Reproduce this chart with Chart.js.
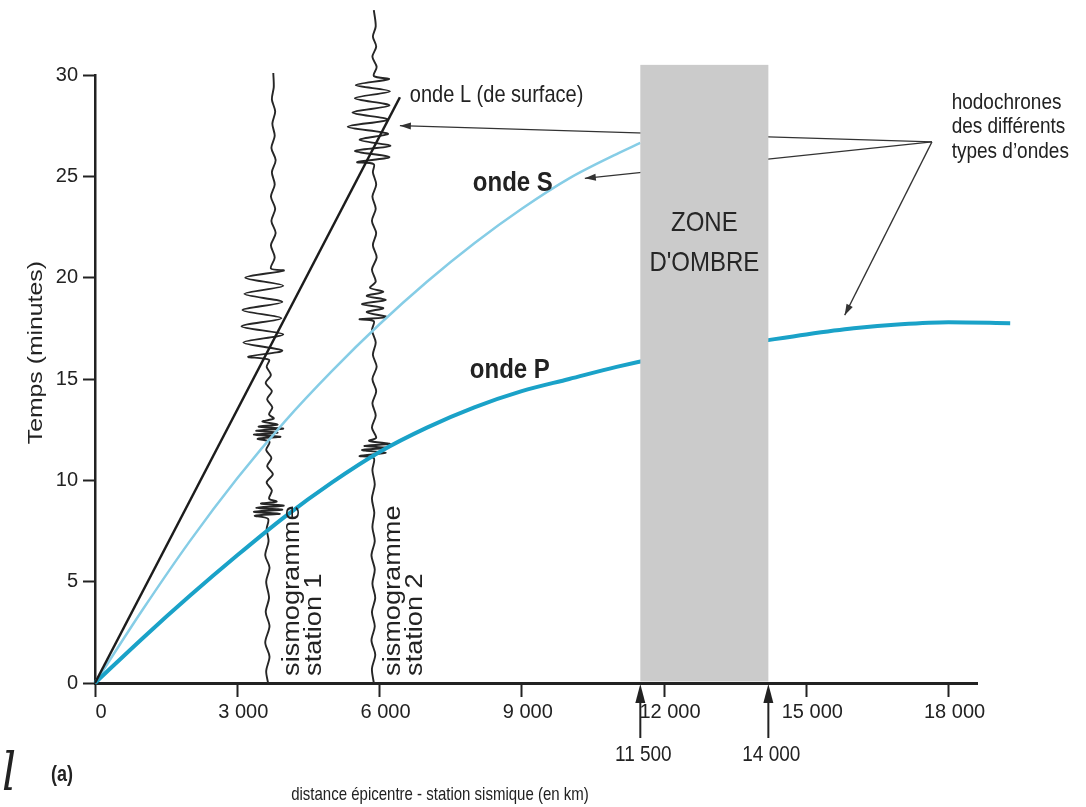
<!DOCTYPE html>
<html>
<head>
<meta charset="utf-8">
<script src="https://cdn.jsdelivr.net/npm/chart.js@4.4.1/dist/chart.umd.min.js"></script>
<style>
  html, body { margin: 0; padding: 0; background: #fff; }
  canvas { display: block; }
</style>
</head>
<body>
<canvas id="hodochrones" width="1086" height="807"></canvas>
<script>
// axis ticks
const xTickValues = [0, 3000, 6000, 9000, 12000, 15000, 18000];
const xTickLabels = ["0", "3 000", "6 000", "9 000", "12 000", "15 000", "18 000"];

// hodochrones (distance km -> temps min)
const pWaveKm  = [0, 1000, 2000, 3000, 4000, 5000, 6000, 7000, 8000, 9000, 10000, 11000, 12000, 13000, 14000, 15000, 16000, 17000, 18000, 19300];
const pWaveMin = [0, 2.2, 4.3, 6.3, 8.2, 9.9, 11.4, 12.6, 13.6, 14.4, 15.0, 15.6, 16.1, 16.5, 16.85, 17.2, 17.5, 17.7, 17.8, 17.75];
const sWaveKm  = [0, 1000, 2000, 3000, 4000, 5000, 6000, 7000, 8000, 9000, 10000, 11000, 11500];
const sWaveMin = [0, 3.6, 7.0, 10.1, 12.9, 15.4, 17.7, 19.8, 21.7, 23.4, 24.9, 26.1, 26.65];
const lWaveKm  = [0, 6430];
const lWaveMin = [0, 28.9];

// sismogrammes : temps (min) et écart horizontal du tracé (km)
const station1Km = 3650;
const station1Min = [0, 0.6, 1.3, 2.0, 2.8, 3.5, 4.2, 5.0, 5.7, 6.3, 7.0, 7.6, 8.1,
  8.25, 8.35, 8.45, 8.55, 8.65, 8.75, 8.85, 8.95, 9.1,
  9.5, 9.9, 10.3, 10.7, 11.1, 11.5, 11.9,
  12.05, 12.15, 12.25, 12.35, 12.45, 12.55, 12.65, 12.75, 12.9, 13.05, 13.25,
  13.6, 14.0, 14.4, 14.8, 15.2, 15.6, 15.95,
  16.1, 16.4, 16.8, 17.2, 17.6, 18.0, 18.4, 18.8, 19.2, 19.6, 20.0, 20.35, 20.45,
  21.0, 21.6, 22.2, 22.8, 23.4, 24.0, 24.6, 25.2, 25.8, 26.4, 27.0, 27.6, 28.2, 28.8, 29.4, 30.1];
const station1Offset = [0, -40, 30, -60, 30, -50, 20, -40, 30, -60, 10, -30, 0,
  -280, 250, -300, 300, -250, 330, -150, 180, 20,
  80, -30, 100, -20, 70, -40, 30,
  -220, 260, -300, 200, -250, 320, -200, 200, -120, 120, 20,
  90, -20, 80, -50, 60, -30, 20,
  -420, 300, -520, 320, -560, 280, -540, 300, -500, 320, -480, 330, 60,
  140, 60, 160, 70, 150, 60, 140, 80, 160, 70, 140, 90, 150, 80, 120, 110];

const station2Km = 5880;
const station2Min = [0, 0.7, 1.4, 2.1, 2.8, 3.5, 4.2, 4.9, 5.6, 6.3, 7.0, 7.7, 8.4, 9.1, 9.8, 10.5, 11.1,
  11.2, 11.35, 11.5, 11.6, 11.7, 11.8, 11.95, 12.1,
  12.6, 13.2, 13.8, 14.4, 15.0, 15.6, 16.2, 16.8, 17.4, 17.85,
  17.95, 18.05, 18.3, 18.5, 18.7, 18.9, 19.1, 19.3, 19.5, 19.8,
  20.4, 21.0, 21.6, 22.2, 22.8, 23.4, 24.0, 24.6, 25.2, 25.6,
  25.7, 25.95, 26.25, 26.5, 26.8, 27.1, 27.45, 27.8, 28.15, 28.5, 28.85, 29.2, 29.5, 29.8, 29.95,
  30.4, 30.9, 31.4, 31.9, 32.4, 33.2];
const station2Offset = [0, -40, 30, -50, 20, -40, 30, -30, 20, -50, 20, -30, 10, -40, 20, -30, 0,
  -300, 250, -250, 300, -200, 340, -100, 50,
  -40, 40, -30, 50, -30, 60, -20, 40, -40, 0,
  -300, 280, -150, 200, -250, 250, -150, 200, -80, 40,
  -40, 60, -20, 50, -40, 40, -30, 50, -20, 0,
  -350, 330, -400, 350, -300, 300, -550, 300, -450, 330, -400, 340, -380, 320, 0,
  60, -30, 50, -20, 40, 0];

// zone d'ombre
const zoneStartKm = 11500;
const zoneEndKm = 14200;
const zoneTopMin = 30.5;
const zoneArrowLabels = ["11 500", "14 000"];

// flèches "hodochrones des différents types d'ondes"
const pointerFromKm = 17650;
const pointerFromMin = 26.7;
const pointerToKm = [6430, 10330, 15810];
const pointerToMin = [27.5, 24.9, 18.15];

const FONT = "'Liberation Sans', Arial, sans-serif";
const STRETCH = 1.18;
const INK = "#222";

const pts = (xs, ys) => xs.map((v, i) => ({ x: v, y: ys[i] }));
const trace = (base, mins, offs) => mins.map((t, i) => ({ x: base + offs[i], y: t }));

function drawLabel(ctx, text, x, y, font, opts = {}) {
  ctx.save();
  ctx.translate(x, y);
  ctx.scale(1, STRETCH);
  if (opts.rotate) ctx.rotate(-Math.PI / 2);
  ctx.font = font;
  ctx.fillStyle = opts.color || INK;
  ctx.textAlign = opts.align || "left";
  ctx.textBaseline = opts.baseline || "middle";
  ctx.fillText(text, 0, 0);
  ctx.restore();
}

function arrowHead(ctx, x0, y0, x1, y1, len, half) {
  const a = Math.atan2(y1 - y0, x1 - x0);
  const bx = x1 - len * Math.cos(a), by = y1 - len * Math.sin(a);
  ctx.beginPath();
  ctx.moveTo(x1, y1);
  ctx.lineTo(bx + half * Math.sin(a), by - half * Math.cos(a));
  ctx.lineTo(bx - half * Math.sin(a), by + half * Math.cos(a));
  ctx.closePath();
  ctx.fill();
}

const overlay = {
  id: "overlay",
  afterDatasetsDraw(chart) {
    const { ctx, chartArea: area, scales } = chart;
    const px = v => scales.x.getPixelForValue(v);
    const py = v => scales.y.getPixelForValue(v);
    ctx.save();

    // pointer lines (under the grey zone)
    ctx.strokeStyle = "#333";
    ctx.fillStyle = "#333";
    ctx.lineWidth = 1.3;
    const fx = px(pointerFromKm), fy = py(pointerFromMin);
    pointerToKm.forEach((km, i) => {
      const tx = px(km), ty = py(pointerToMin[i]);
      ctx.beginPath();
      ctx.moveTo(fx, fy);
      ctx.lineTo(tx, ty);
      ctx.stroke();
      arrowHead(ctx, fx, fy, tx, ty, 11, 3.5);
    });

    // zone d'ombre
    const zl = px(zoneStartKm), zr = px(zoneEndKm), zt = py(zoneTopMin);
    ctx.fillStyle = "#cbcbcb";
    ctx.fillRect(zl, zt, zr - zl, area.bottom - 1.5 - zt);
    const zc = (zl + zr) / 2;
    drawLabel(ctx, "ZONE", zc, py(22.7), "24px " + FONT, { align: "center", color: "#262626" });
    drawLabel(ctx, "D'OMBRE", zc, py(20.7), "24px " + FONT, { align: "center", color: "#262626" });

    // arrows under the axis
    ctx.fillStyle = INK;
    ctx.strokeStyle = INK;
    ctx.lineWidth = 2;
    [zoneStartKm, zoneEndKm].forEach((km, i) => {
      const ax = px(km);
      ctx.beginPath();
      ctx.moveTo(ax, area.bottom + 55);
      ctx.lineTo(ax, area.bottom + 14);
      ctx.stroke();
      arrowHead(ctx, ax, area.bottom + 55, ax, area.bottom + 1, 19, 5);
      drawLabel(ctx, zoneArrowLabels[i], ax + 3, area.bottom + 72, "19px " + FONT, { align: "center" });
    });

    // wave names
    drawLabel(ctx, "onde L (de surface)", px(6640), py(29.0), "20px " + FONT);
    drawLabel(ctx, "onde S", px(7968), py(24.67), "bold 24px " + FONT);
    drawLabel(ctx, "onde P", px(7905), py(15.44), "bold 24px " + FONT);

    // hodochrones note
    const nx = px(18065);
    drawLabel(ctx, "hodochrones", nx, py(28.61), "19px " + FONT);
    drawLabel(ctx, "des différents", nx, py(27.43), "19px " + FONT);
    drawLabel(ctx, "types d\u2019ondes", nx, py(26.2), "19px " + FONT);

    // seismogram captions (rotated)
    const rot = { rotate: true, baseline: "alphabetic" };
    drawLabel(ctx, "sismogramme", px(4300), py(0.35), "23px " + FONT, rot);
    drawLabel(ctx, "station 1", px(4764), py(0.35), "23px " + FONT, rot);
    drawLabel(ctx, "sismogramme", px(6429), py(0.35), "23px " + FONT, rot);
    drawLabel(ctx, "station 2", px(6893), py(0.35), "23px " + FONT, rot);

    // axis titles
    drawLabel(ctx, "Temps (minutes)", 42, py(16.3), "21px " + FONT, { rotate: true, align: "center", baseline: "alphabetic" });
    drawLabel(ctx, "distance épicentre - station sismique (en km)", 440, 795, "15px " + FONT, { align: "center" });

    // figure tag
    drawLabel(ctx, "(a)", 51, 775, "bold 18px " + FONT, {});
    drawLabel(ctx, "l", 2, 790, "italic 44px 'DejaVu Serif', serif", { baseline: "alphabetic" });

    ctx.restore();
  }
};

const lineStyle = { showLine: true, pointRadius: 0, fill: false, clip: false };

new Chart(document.getElementById("hodochrones"), {
  type: "scatter",
  data: {
    datasets: [
      { ...lineStyle, label: "onde L", data: pts(lWaveKm, lWaveMin), borderColor: "#1c1c1c", borderWidth: 2.5 },
      { ...lineStyle, label: "onde P", data: pts(pWaveKm, pWaveMin), borderColor: "#1aa2c8", borderWidth: 4, cubicInterpolationMode: "monotone" },
      { ...lineStyle, label: "onde S", data: pts(sWaveKm, sWaveMin), borderColor: "#86cde6", borderWidth: 2.5, cubicInterpolationMode: "monotone" },
      { ...lineStyle, label: "station 1", data: trace(station1Km, station1Min, station1Offset), borderColor: "#262626", borderWidth: 1.9, tension: 0.3 },
      { ...lineStyle, label: "station 2", data: trace(station2Km, station2Min, station2Offset), borderColor: "#262626", borderWidth: 1.9, tension: 0.3 }
    ]
  },
  options: {
    responsive: false,
    animation: false,
    events: [],
    devicePixelRatio: 1,
    layout: { padding: { left: 0, top: 75, right: 109, bottom: 0 } },
    plugins: { legend: { display: false }, tooltip: { enabled: false } },
    scales: {
      x: {
        type: "linear",
        min: 0,
        max: 18600,
        afterFit: s => { s.height = 124; },
        afterBuildTicks: s => { s.ticks = xTickValues.map(v => ({ value: v })); },
        border: { color: INK, width: 3 },
        grid: { drawOnChartArea: false, drawTicks: true, tickLength: 14, tickColor: INK, tickWidth: 2 },
        ticks: {
          callback: (v, i) => xTickLabels[i],
          font: { family: FONT, size: 20 },
          color: INK,
          padding: 3,
          labelOffset: 6,
          maxRotation: 0,
          autoSkip: false
        }
      },
      y: {
        type: "linear",
        min: 0,
        max: 30,
        afterFit: s => { s.width = 95; },
        border: { color: INK, width: 2.5 },
        grid: { drawOnChartArea: false, drawTicks: true, tickLength: 12, tickColor: INK, tickWidth: 2 },
        ticks: { stepSize: 5, font: { family: FONT, size: 20 }, color: INK, padding: 5 }
      }
    }
  },
  plugins: [overlay]
});
</script>
</body>
</html>
